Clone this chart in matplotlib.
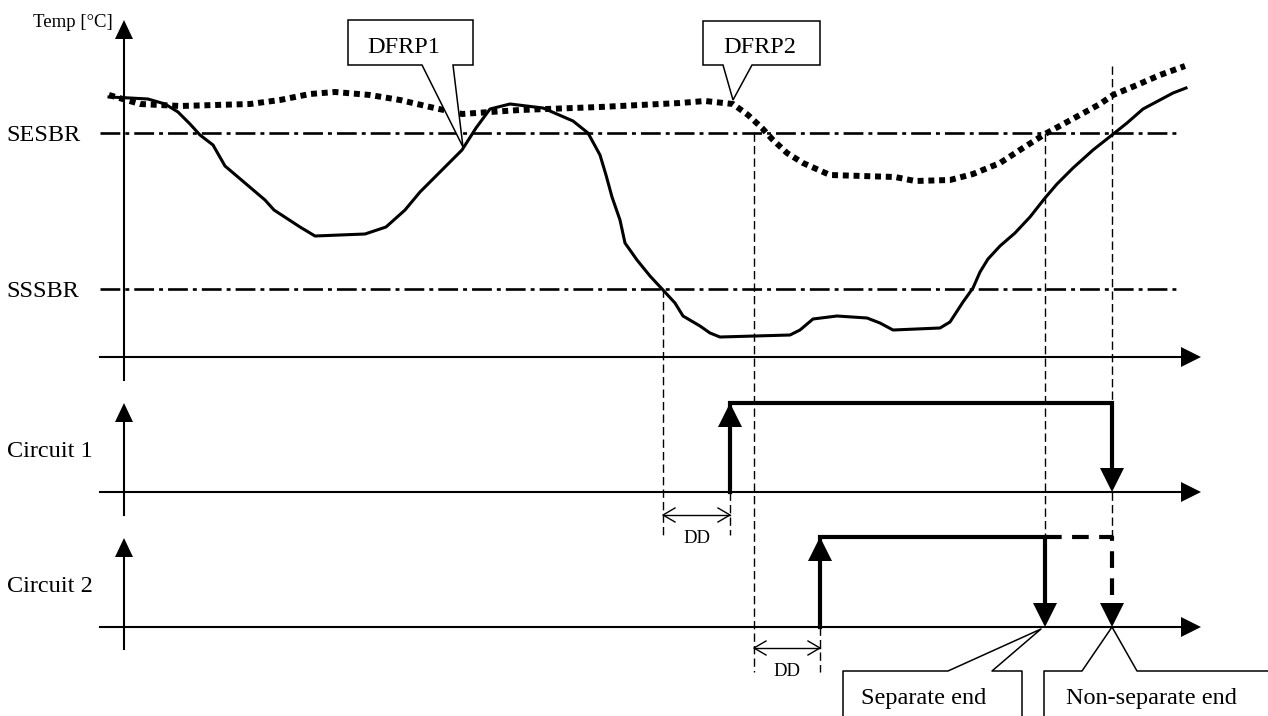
import matplotlib.pyplot as plt

plt.rcParams['font.family'] = ['Liberation Serif', 'DejaVu Serif']

# canvas in pixels, y grows downward
W, H = 1268, 716

# threshold levels
level_names = ['SESBR', 'SSSBR']
level_y = [133, 289]

# temperature traces
solid_x = [109, 130, 148, 165, 178, 190, 200, 213, 225, 245, 265, 274, 300, 315, 365, 386,
           405, 420, 440, 462, 476, 490, 510, 543, 573, 588, 600, 606, 612, 620, 625, 637,
           650, 663, 675, 683, 700, 710, 720, 790, 800, 813, 837, 867, 880, 893, 940, 950,
           963, 973, 980, 988, 1000, 1015, 1030, 1045, 1057, 1073, 1093, 1112, 1127,
           1143, 1158, 1173, 1186]
solid_y = [97, 98, 99, 104, 112, 124, 135, 145, 166, 183, 200, 210, 227, 236, 234, 227,
           210, 192, 172, 150, 128, 109, 104, 108, 121, 133, 155, 175, 197, 220, 243, 260,
           276, 290, 303, 316, 326, 333, 337, 335, 330, 319, 316, 318, 323, 330, 328, 322,
           302, 288, 272, 259, 246, 233, 217, 198, 184, 168, 150, 135, 123,
           109, 101, 93, 88]
dotted_x = [109, 140, 180, 250, 280, 310, 335, 370, 400, 430, 462, 490, 520, 600, 680, 705,
            733, 748, 762, 772, 787, 803, 830, 895, 915, 950, 973, 1000, 1023, 1045, 1067,
            1100, 1113, 1137, 1160, 1185]
dotted_y = [95, 104, 106, 104, 100, 94, 92, 95, 100, 107, 114, 112, 110, 107, 103, 101,
            104, 115, 128, 139, 153, 163, 175, 177, 181, 180, 174, 163, 148, 134, 122,
            104, 95, 85, 75, 66]

# axes: time-axis heights, y-axis tops and bottoms
axis_x = 124
time_y = [357, 492, 627]
yaxis_top = [20, 403, 538]
yaxis_bottom = [380, 515, 649]
panel_labels = ['Circuit 1', 'Circuit 2']

# circuit switching
c1_on, c1_off = 730, 1112
c2_on, c2_sep_end, c2_nonsep_end = 820, 1045, 1112
high_y = [403, 537]

fig = plt.figure(figsize=(W / 100, H / 100), dpi=100)
ax = fig.add_axes([0, 0, 1, 1])
ax.set_xlim(0, W)
ax.set_ylim(H, 0)
ax.axis('off')

k = 'black'
fs = 17.5


def head(x, y, d, length, half):
    # filled arrow head with its tip at (x, y)
    if d == 'up':
        px, py = [x, x - half, x + half], [y, y + length, y + length]
    elif d == 'down':
        px, py = [x, x - half, x + half], [y, y - length, y - length]
    else:
        px, py = [x, x - length, x - length], [y, y - half, y + half]
    ax.fill(px, py, color=k, lw=0, zorder=5)


def open_head(x, y, d, length=12, half=7):
    ax.plot([x - d * length, x, x - d * length], [y - half, y, y + half], color=k, lw=1)


# axes
for ty, top, bot in zip(time_y, yaxis_top, yaxis_bottom):
    ax.plot([100, 1185], [ty, ty], color=k, lw=1.5)
    head(1201, ty, 'right', 20, 10)
    ax.plot([axis_x, axis_x], [bot, top + 15], color=k, lw=1.5)
    head(axis_x, top, 'up', 19, 9)

ax.text(113, 27, 'Temp [°C]', fontsize=13.5, ha='right', va='baseline')
for name, ly in zip(level_names, level_y):
    ax.plot([100, 1180], [ly, ly], color=k, lw=1.9, linestyle=(0, (7.5, 1.9, 1.5, 1.9)))
    ax.text(6, ly + 8, name, fontsize=fs, ha='left', va='baseline')
for name, ty in zip(panel_labels, time_y[1:]):
    ax.text(7, ty - 35, name, fontsize=fs, ha='left', va='baseline')

# temperature traces
ax.plot(solid_x, solid_y, color=k, lw=2.2, solid_joinstyle='round')
ax.plot(dotted_x, dotted_y, color=k, lw=4.3, linestyle=(0, (1.0, 0.8)), dash_capstyle='butt')

# guide lines
thin = dict(color=k, lw=1.0, linestyle=(0, (6, 3)))
ax.plot([663, 663], [level_y[1], 535], **thin)
ax.plot([754, 754], [level_y[0], 672], **thin)
ax.plot([c2_sep_end, c2_sep_end], [level_y[0], high_y[1]], **thin)
ax.plot([c1_off, c1_off], [66, high_y[0]], **thin)
ax.plot([c1_off, c1_off], [time_y[1], high_y[1]], **thin)
ax.plot([c1_on, c1_on], [time_y[1], 535], **thin)
ax.plot([c2_on, c2_on], [time_y[2], 672], **thin)

# circuit 1
ax.plot([c1_on, c1_on, c1_off, c1_off], [time_y[1], high_y[0], high_y[0], time_y[1] - 22],
        color=k, lw=3, solid_joinstyle='miter')
head(c1_on, high_y[0], 'up', 24, 12)
head(c1_off, time_y[1], 'down', 24, 12)

# circuit 2
ax.plot([c2_on, c2_on, c2_sep_end, c2_sep_end], [time_y[2], high_y[1], high_y[1], time_y[2] - 22],
        color=k, lw=3, solid_joinstyle='miter')
ax.plot([c2_sep_end, c2_nonsep_end, c2_nonsep_end], [high_y[1], high_y[1], time_y[2] - 22],
        color=k, lw=3, linestyle=(0, (4, 2.5)))
head(c2_on, high_y[1], 'up', 24, 12)
head(c2_sep_end, time_y[2], 'down', 24, 12)
head(c2_nonsep_end, time_y[2], 'down', 24, 12)

# DD intervals
for x0, x1, yy in [(663, c1_on, 515), (754, c2_on, 648)]:
    ax.plot([x0, x1], [yy, yy], color=k, lw=1)
    open_head(x0, yy, -1)
    open_head(x1, yy, 1)
    ax.text((x0 + x1) / 2, yy + 28, 'DD', fontsize=13.5, ha='center', va='baseline')

# callouts
call = dict(color=k, lw=1.1)
ax.fill([422, 348, 348, 473, 473, 453, 463], [65, 65, 20, 20, 65, 65, 147],
        facecolor='white', edgecolor=k, lw=1.1, zorder=6)
ax.text(404, 53, 'DFRP1', fontsize=fs, ha='center', va='baseline', zorder=7)
ax.fill([723, 703, 703, 820, 820, 752, 733], [65, 65, 21, 21, 65, 65, 100],
        facecolor='white', edgecolor=k, lw=1.1, zorder=6)
ax.text(760, 53, 'DFRP2', fontsize=fs, ha='center', va='baseline', zorder=7)

ax.plot([843, 843, 948, 1041, 992, 1022, 1022], [720, 671, 671, 629, 671, 671, 720], **call)
ax.text(924, 704, 'Separate end', fontsize=fs, ha='center', va='baseline')
ax.plot([1044, 1044, 1082, 1112, 1137, 1272], [720, 671, 671, 627, 671, 671], **call)
ax.text(1151, 704, 'Non-separate end', fontsize=fs, ha='center', va='baseline')

plt.savefig('out.png', dpi=100)
